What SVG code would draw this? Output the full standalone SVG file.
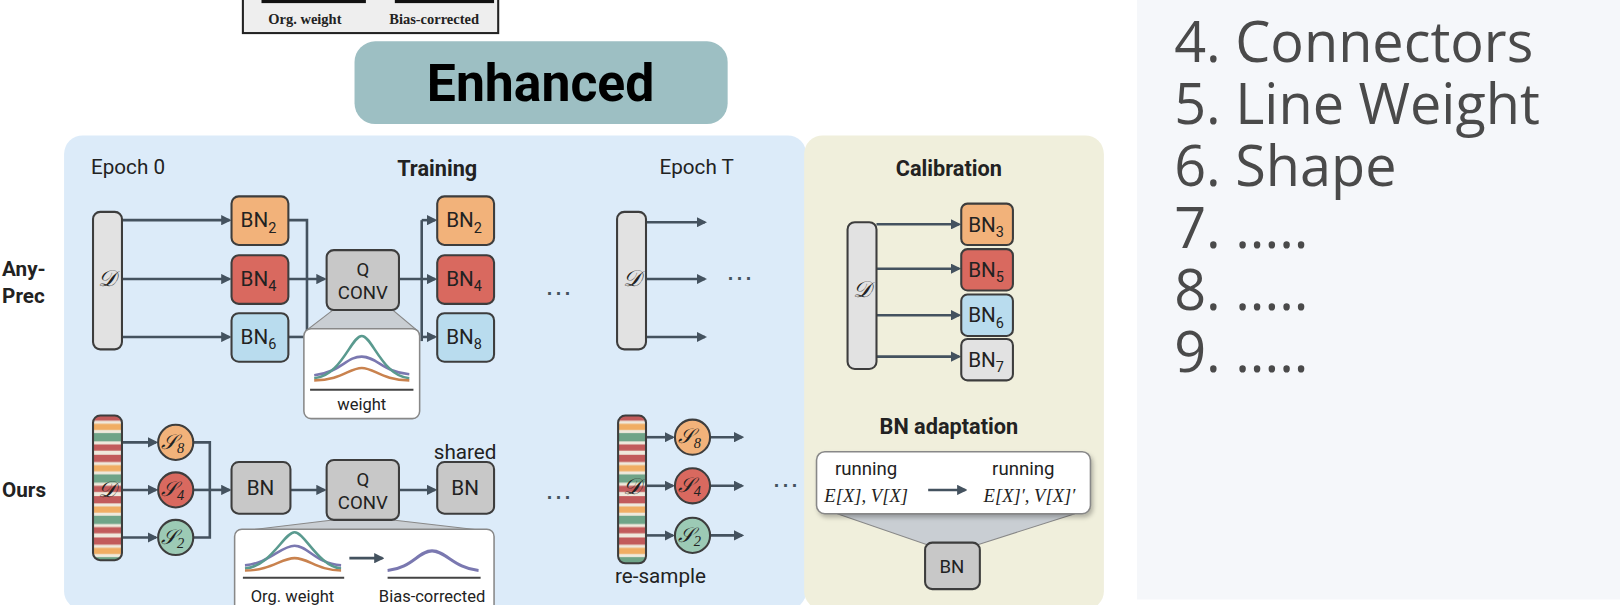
<svg xmlns="http://www.w3.org/2000/svg" width="1620" height="605" viewBox="0 0 1620 605">
<style>
text{font-family:Roboto,"Liberation Sans",sans-serif;fill:#222}
.b{font-weight:bold}
.bn{font-size:20px;text-anchor:middle}
.sub{font-size:14px}
.box{stroke:#3d3d3d;stroke-width:2}
.or{fill:#f2b27a}.rd{fill:#d9695f}.bl{fill:#b9dcee}.gy{fill:#c8c8c8}.lg{fill:#e2e2e2}
.ln{stroke:#44525f;stroke-width:2.5;fill:none}
.ar{stroke:#44525f;stroke-width:2.5;fill:none;marker-end:url(#ah)}
.cal{font-family:"Liberation Serif",serif;font-style:italic;font-size:22px;fill:#222;text-anchor:middle}
.mt{font-family:"Liberation Serif",serif;font-style:italic;font-size:18px;text-anchor:middle}
.dots{font-size:26px;text-anchor:middle;fill:#44525f}
.pop{fill:#fff;stroke:#888;stroke-width:1.5}
.fun{fill:#c9ced3;stroke:#888;stroke-width:1}
.list{font-family:"Open Sans",Roboto,sans-serif;font-size:54px;fill:#4a4a4a}
</style>
<defs>
<marker id="ah" markerWidth="10" markerHeight="10" refX="8" refY="5" orient="auto" markerUnits="userSpaceOnUse"><path d="M0,0 L10,5 L0,10 z" fill="#44525f"/></marker>
<pattern id="stripe" width="28" height="40" patternUnits="userSpaceOnUse">
<rect width="28" height="40" fill="#efe9dc"/>
<rect y="0" width="28" height="7" fill="#c25b5b"/>
<rect y="10" width="28" height="6" fill="#f0ad63"/>
<rect y="19" width="28" height="8" fill="#6fa488"/>
<rect y="30" width="28" height="6" fill="#c25b5b"/>
</pattern>
</defs>
<rect width="1620" height="605" fill="#fff"/>
<g transform="scale(1.0336)">
<rect x="1100" y="0" width="520" height="580" fill="#f5f7fa"/>
<g id="list">
<text class="list" x="1136" y="60">4. Connectors</text>
<text class="list" x="1136" y="120">5. Line Weight</text>
<text class="list" x="1136" y="180">6. Shape</text>
<text class="list" x="1136" y="240">7.  .....</text>
<text class="list" x="1136" y="300">8. .....</text>
<text class="list" x="1136" y="360">9. .....</text>
</g>
<g id="oldfig">
<rect x="235" y="-2" width="247" height="34" fill="#eeeeee" stroke="#222" stroke-width="2"/>
<rect x="253" y="-2" width="101" height="5" fill="#111"/>
<rect x="382" y="-2" width="96" height="5" fill="#111"/>
<text x="295" y="23" style="font-family:'Liberation Serif',serif;font-weight:bold;font-size:14px" text-anchor="middle">Org. weight</text>
<text x="420" y="23" style="font-family:'Liberation Serif',serif;font-weight:bold;font-size:14px" text-anchor="middle">Bias-corrected</text>
</g>
<g id="enhanced">
<rect x="343" y="40" width="361" height="80" rx="20" fill="#9dbfc3"/>
<text x="523" y="98" class="b" style="font-size:50px;fill:#000" text-anchor="middle">Enhanced</text>
</g>
<rect x="62" y="131" width="718" height="459" rx="18" fill="#dcebf9"/>
<rect x="778" y="131" width="290" height="459" rx="18" fill="#f0efdc"/>
<g id="labels">
<text x="2" y="267" class="b" style="font-size:20px">Any-</text>
<text x="2" y="293" class="b" style="font-size:20px">Prec</text>
<text x="2" y="481" class="b" style="font-size:20px">Ours</text>
<text x="88" y="168" style="font-size:20px">Epoch 0</text>
<text x="423" y="170" class="b" style="font-size:21px" text-anchor="middle">Training</text>
<text x="674" y="168" style="font-size:20px" text-anchor="middle">Epoch T</text>
<text x="918" y="170" class="b" style="font-size:21px" text-anchor="middle">Calibration</text>
<text x="918" y="420" class="b" style="font-size:21px" text-anchor="middle">BN adaptation</text>
<text x="450" y="444" style="font-size:20px" text-anchor="middle">shared</text>
<text x="595" y="564" style="font-size:20px">re-sample</text>
<text x="540" y="292" class="dots">⋯</text>
<text x="715" y="278" class="dots">⋯</text>
<text x="540" y="490" class="dots">⋯</text>
<text x="760" y="478" class="dots">⋯</text>
</g>
<g id="connectors">
<path class="ar" d="M118,213 H222"/><path class="ar" d="M118,270 H222"/><path class="ar" d="M118,326 H222"/>
<path class="ln" d="M279,213 H297 V330"/><path class="ln" d="M279,326 H297"/>
<path class="ar" d="M279,270 H314"/>
<path class="ar" d="M386,270 H421"/><path class="ln" d="M408,213 V330"/>
<path class="ar" d="M408,213 H421"/><path class="ar" d="M408,326 H421"/>
<path class="ar" d="M625,215 H682"/><path class="ar" d="M625,270 H682"/><path class="ar" d="M625,326 H682"/>
<path class="ar" d="M848,217 H928"/><path class="ar" d="M848,260 H928"/><path class="ar" d="M848,305 H928"/><path class="ar" d="M848,345 H928"/>
<path class="ar" d="M118,428 H151"/><path class="ar" d="M118,474 H151"/><path class="ar" d="M118,520 H151"/>
<path class="ln" d="M187,428 H203 V520 H187"/><path class="ln" d="M187,474 H203"/>
<path class="ar" d="M203,474 H222"/>
<path class="ar" d="M281,474 H314"/><path class="ar" d="M386,474 H421"/>
<path class="ar" d="M625,423 H651"/><path class="ar" d="M625,470 H651"/><path class="ar" d="M625,518 H651"/>
<path class="ar" d="M687,423 H718"/><path class="ar" d="M687,470 H718"/><path class="ar" d="M687,518 H718"/>
</g>
<g id="d-top"><rect class="box lg" x="90" y="205" width="28" height="133" rx="7"/><text class="cal" x="104" y="277">𝒟</text></g>
<g id="bn2"><rect class="box or" x="224" y="190" width="55" height="47" rx="7"/><text class="bn" x="250" y="220">BN<tspan class="sub" dy="5">2</tspan></text></g>
<g id="bn4"><rect class="box rd" x="224" y="247" width="55" height="47" rx="7"/><text class="bn" x="250" y="277">BN<tspan class="sub" dy="5">4</tspan></text></g>
<g id="bn6"><rect class="box bl" x="224" y="303" width="55" height="47" rx="7"/><text class="bn" x="250" y="333">BN<tspan class="sub" dy="5">6</tspan></text></g>
<g id="popup-top">
<path class="fun" d="M322,300 L296,320 L404,320 L380,300 z"/>
<rect class="pop" x="294" y="318" width="112" height="87" rx="7"/>
<path d="M304,363 C330,360 335,345 350,345 C365,345 370,360 396,362" stroke="#7a78b0" stroke-width="2.5" fill="none"/>
<path d="M304,366 C330,364 340,325 350,325 C360,325 370,364 396,366" stroke="#5a9a8f" stroke-width="2.5" fill="none"/>
<path d="M304,368 C330,368 338,356 350,356 C362,356 370,368 396,368" stroke="#c9824e" stroke-width="2.5" fill="none"/>
<line x1="300" y1="377" x2="400" y2="377" stroke="#444" stroke-width="2"/>
<text x="350" y="397" style="font-size:16px" text-anchor="middle">weight</text>
</g>
<g id="qconv-top"><rect class="box gy" x="316" y="242" width="70" height="58" rx="7"/><text class="bn" style="font-size:18px" x="351" y="267">Q</text><text class="bn" style="font-size:18px" x="351" y="289">CONV</text></g>
<g id="bn2r"><rect class="box or" x="423" y="190" width="55" height="47" rx="7"/><text class="bn" x="449" y="220">BN<tspan class="sub" dy="5">2</tspan></text></g>
<g id="bn4r"><rect class="box rd" x="423" y="247" width="55" height="47" rx="7"/><text class="bn" x="449" y="277">BN<tspan class="sub" dy="5">4</tspan></text></g>
<g id="bn8r"><rect class="box bl" x="423" y="303" width="55" height="47" rx="7"/><text class="bn" x="449" y="333">BN<tspan class="sub" dy="5">8</tspan></text></g>
<g id="d-T"><rect class="box lg" x="597" y="205" width="28" height="133" rx="7"/><text class="cal" x="611" y="277">𝒟</text></g>
<g id="d-cal"><rect class="box lg" x="820" y="215" width="28" height="142" rx="7"/><text class="cal" x="834" y="287">𝒟</text></g>
<g id="bn3c"><rect class="box or" x="930" y="197" width="50" height="40" rx="6"/><text class="bn" x="954" y="224">BN<tspan class="sub" dy="5">3</tspan></text></g>
<g id="bn5c"><rect class="box rd" x="930" y="241" width="50" height="40" rx="6"/><text class="bn" x="954" y="268">BN<tspan class="sub" dy="5">5</tspan></text></g>
<g id="bn6c"><rect class="box bl" x="930" y="285" width="50" height="40" rx="6"/><text class="bn" x="954" y="312">BN<tspan class="sub" dy="5">6</tspan></text></g>
<g id="bn7c"><rect class="box lg" x="930" y="328" width="50" height="40" rx="6"/><text class="bn" x="954" y="355">BN<tspan class="sub" dy="5">7</tspan></text></g>
<g id="adapt">
<path class="fun" d="M810,497 L897,527 L946,527 L1040,497 z"/>
<rect class="pop" x="790" y="437" width="265" height="60" rx="8" style="filter:drop-shadow(2px 3px 2px rgba(0,0,0,0.25))"/>
<text x="838" y="460" style="font-size:18px" text-anchor="middle">running</text>
<text class="mt" x="838" y="486">E[X], V[X]</text>
<path class="ar" d="M898,474 H934"/>
<text x="990" y="460" style="font-size:18px" text-anchor="middle">running</text>
<text class="mt" x="996" y="486">E[X]′, V[X]′</text>
</g>
<g id="bn-adapt"><rect class="box gy" x="895" y="525" width="53" height="45" rx="7"/><text class="bn" style="font-size:18px" x="921" y="554">BN</text></g>
<g id="d-ours"><rect class="box" fill="url(#stripe)" x="90" y="402" width="28" height="140" rx="7"/><text class="cal" x="104" y="481">𝒟</text></g>
<g id="s8"><circle class="box or" cx="170" cy="428" r="17"/><text class="cal" style="font-size:20px" x="167" y="434">𝒮<tspan class="sub" dy="4">8</tspan></text></g>
<g id="s4"><circle class="box rd" cx="170" cy="474" r="17"/><text class="cal" style="font-size:20px" x="167" y="480">𝒮<tspan class="sub" dy="4">4</tspan></text></g>
<g id="s2"><circle class="box" fill="#9ccab5" cx="170" cy="520" r="17"/><text class="cal" style="font-size:20px" x="167" y="526">𝒮<tspan class="sub" dy="4">2</tspan></text></g>
<g id="bn-ours"><rect class="box gy" x="224" y="447" width="57" height="50" rx="7"/><text class="bn" x="252" y="479">BN</text></g>
<g id="popup-bot">
<path class="fun" d="M322,503 L232,514 L474,514 L380,503 z"/>
<rect class="pop" x="227" y="512" width="251" height="82" rx="7"/>
<path d="M237,547 C260,545 272,528 285,528 C298,528 305,545 330,547" stroke="#7a78b0" stroke-width="2.5" fill="none"/>
<path d="M237,550 C262,548 275,515 285,515 C295,515 308,548 330,550" stroke="#5a9a8f" stroke-width="2.5" fill="none"/>
<path d="M237,552 C262,552 272,540 285,540 C298,540 308,552 330,552" stroke="#c9824e" stroke-width="2.5" fill="none"/>
<line x1="235" y1="559" x2="333" y2="559" stroke="#444" stroke-width="2"/>
<path class="ar" d="M338,540 H370"/>
<path d="M375,552 C398,550 405,533 418,533 C431,533 440,550 463,552" stroke="#7a78b0" stroke-width="3" fill="none"/>
<line x1="375" y1="559" x2="465" y2="559" stroke="#444" stroke-width="2"/>
<text x="283" y="582" style="font-size:16px" text-anchor="middle">Org. weight</text>
<text x="418" y="582" style="font-size:16px" text-anchor="middle">Bias-corrected</text>
</g>
<g id="qconv-ours"><rect class="box gy" x="316" y="445" width="70" height="58" rx="7"/><text class="bn" style="font-size:18px" x="351" y="470">Q</text><text class="bn" style="font-size:18px" x="351" y="492">CONV</text></g>
<g id="bn-shared"><rect class="box gy" x="423" y="447" width="55" height="50" rx="7"/><text class="bn" x="450" y="479">BN</text></g>
<g id="d-T-ours"><rect class="box" fill="url(#stripe)" x="598" y="402" width="27" height="143" rx="7"/><text class="cal" x="611" y="478">𝒟</text></g>
<g id="s8T"><circle class="box or" cx="670" cy="423" r="17"/><text class="cal" style="font-size:20px" x="667" y="429">𝒮<tspan class="sub" dy="4">8</tspan></text></g>
<g id="s4T"><circle class="box rd" cx="670" cy="470" r="17"/><text class="cal" style="font-size:20px" x="667" y="476">𝒮<tspan class="sub" dy="4">4</tspan></text></g>
<g id="s2T"><circle class="box" fill="#9ccab5" cx="670" cy="518" r="17"/><text class="cal" style="font-size:20px" x="667" y="524">𝒮<tspan class="sub" dy="4">2</tspan></text></g>
</g>
</svg>
